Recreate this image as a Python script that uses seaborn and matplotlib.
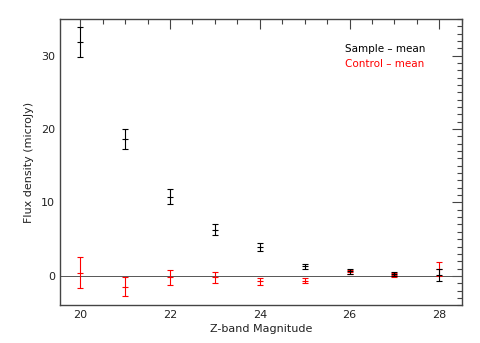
import matplotlib
matplotlib.use('Agg')
import numpy as np
import pandas as pd
import matplotlib.pyplot as plt
import seaborn as sns
from matplotlib.ticker import MultipleLocator

sns.set_style('white')
plt.rcParams['font.family'] = ['DejaVu Sans']

# 数据
mag = [20, 21, 22, 23, 24, 25, 26, 27, 28]
sample_mean = [31.8, 18.6, 10.8, 6.3, 3.95, 1.28, 0.64, 0.23, 0.15]
sample_err = [2.05, 1.35, 1.0, 0.7, 0.55, 0.4, 0.35, 0.3, 0.85]
control_mean = [0.46, -1.45, -0.18, -0.18, -0.72, -0.63, 0.55, 0.14, 0.95]
control_err = [2.05, 1.35, 1.0, 0.75, 0.5, 0.35, 0.3, 0.3, 0.9]

df = pd.DataFrame({'mag': mag, 'sample': sample_mean, 'control': control_mean})

fig, ax = plt.subplots(figsize=(4.8, 3.43), dpi=100)
fig.subplots_adjust(left=0.125, right=0.962, top=0.945, bottom=0.11)

ax.axhline(0, color='#555555', lw=0.7, zorder=1)

ax.errorbar(mag, sample_mean, yerr=sample_err, fmt='none', ecolor='black',
            elinewidth=0.8, capsize=2.2, capthick=0.8, zorder=3)
ax.errorbar(mag, control_mean, yerr=control_err, fmt='none', ecolor='red',
            elinewidth=0.8, capsize=2.2, capthick=0.8, zorder=2)
sns.scatterplot(data=df, x='mag', y='sample', marker='_', s=25, color='black',
                linewidth=0.8, ax=ax, zorder=3)
sns.scatterplot(data=df, x='mag', y='control', marker='_', s=25, color='red',
                linewidth=0.8, ax=ax, zorder=2)

ax.set_xlim(19.55, 28.5)
ax.set_ylim(-4, 35)
ax.xaxis.set_major_locator(MultipleLocator(2))
ax.xaxis.set_minor_locator(MultipleLocator(0.5))
ax.yaxis.set_major_locator(MultipleLocator(10))
ax.yaxis.set_minor_locator(MultipleLocator(1))
ax.tick_params(which='both', direction='in', top=True, right=True,
               labelsize=8, width=0.8, color='#444444', labelcolor='#222222')
ax.tick_params(which='major', length=7)
ax.tick_params(which='minor', length=3.5)
for s in ax.spines.values():
    s.set_linewidth(1.0)
    s.set_color('#444444')

ax.set_xlabel('Z-band Magnitude', fontsize=8, labelpad=3, color='#222222')
ax.set_ylabel('Flux density (microJy)', fontsize=8, labelpad=5, color='#222222')

ax.text(0.71, 0.895, 'Sample \u2013 mean', transform=ax.transAxes,
        fontsize=7.5, color='black', va='center')
ax.text(0.71, 0.843, 'Control \u2013 mean', transform=ax.transAxes,
        fontsize=7.5, color='red', va='center')

plt.savefig('out.png', dpi=100)
